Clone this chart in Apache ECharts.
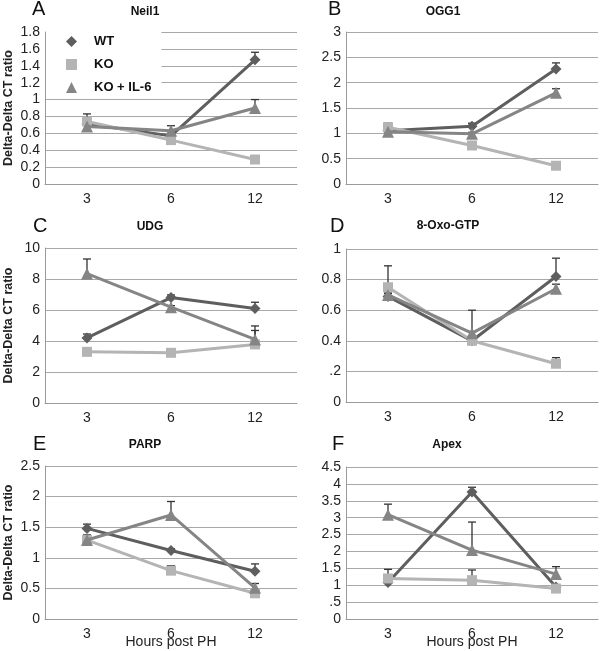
<!DOCTYPE html>
<html><head><meta charset="utf-8">
<script src="https://cdn.jsdelivr.net/npm/echarts@6/dist/echarts.min.js"></script>
<style>html,body{margin:0;padding:0;background:#fff}#c{width:600px;height:651px}</style>
</head><body><div id="c"></div>
<script>
const categories = ['3', '6', '12'];
const seriesNames = ['WT', 'KO', 'KO + IL-6'];

const neil1WT = [0.71, 0.57, 1.47];
const neil1KO = [0.74, 0.52, 0.29];
const neil1IL6 = [0.68, 0.63, 0.90];
const neil1WTErr = [0.03, 0.03, 0.09];
const neil1KOErr = [0.09, 0.03, 0.04];
const neil1IL6Err = [0.03, 0.06, 0.10];

const ogg1WT = [1.05, 1.14, 2.27];
const ogg1KO = [1.12, 0.76, 0.36];
const ogg1IL6 = [1.03, 0.99, 1.80];
const ogg1WTErr = [0.03, 0.06, 0.12];
const ogg1KOErr = [0.08, 0.03, 0.03];
const ogg1IL6Err = [0.03, 0.03, 0.08];

const udgWT = [4.2, 6.8, 6.1];
const udgKO = [3.3, 3.24, 3.78];
const udgIL6 = [8.34, 6.18, 4.1];
const udgWTErr = [0.25, 0.17, 0.4];
const udgKOErr = [0.1, 0.1, 0.9];
const udgIL6Err = [0.95, 0.1, 0.87];

const oxoWT = [0.69, 0.40, 0.82];
const oxoKO = [0.75, 0.40, 0.25];
const oxoIL6 = [0.70, 0.45, 0.74];
const oxoWTErr = [0.02, 0.02, 0.12];
const oxoKOErr = [0.14, 0.02, 0.04];
const oxoIL6Err = [0.02, 0.15, 0.03];

const parpWT = [1.48, 1.12, 0.78];
const parpKO = [1.29, 0.79, 0.42];
const parpIL6 = [1.29, 1.70, 0.51];
const parpWTErr = [0.07, 0.03, 0.12];
const parpKOErr = [0.08, 0.08, 0.03];
const parpIL6Err = [0.08, 0.22, 0.07];

const apexWT = [1.08, 3.76, 0.95];
const apexKO = [1.2, 1.15, 0.9];
const apexIL6 = [3.09, 2.04, 1.33];
const apexWTErr = [0.05, 0.14, 0.03];
const apexKOErr = [0.27, 0.3, 0.03];
const apexIL6Err = [0.31, 0.83, 0.22];

const yTicksA = ['0', '0.2', '0.4', '0.6', '0.8', '1', '1.2', '1.4', '1.6', '1.8'];
const yTicksB = ['0', '0.5', '1', '1.5', '2', '2.5', '3'];
const yTicksC = ['0', '2', '4', '6', '8', '10'];
const yTicksD = ['0', '.2', '0.4', '0.6', '0.8', '1'];
const yTicksE = ['0', '0.5', '1', '1.5', '2', '2.5'];
const yTicksF = ['0', '.5', '1', '1.5', '2', '2.5', '3', '3.5', '4', '4.5'];

const panels = [
  {letter: 'A', title: 'Neil1', vals: [neil1WT, neil1KO, neil1IL6], errs: [neil1WTErr, neil1KOErr, neil1IL6Err], ticks: yTicksA, interval: 0.2, max: 1.8,
   grid: {left: 45, top: 32, width: 252, height: 152}, yName: true, xName: false},
  {letter: 'B', title: 'OGG1', vals: [ogg1WT, ogg1KO, ogg1IL6], errs: [ogg1WTErr, ogg1KOErr, ogg1IL6Err], ticks: yTicksB, interval: 0.5, max: 3,
   grid: {left: 346, top: 32, width: 252, height: 152}, yName: false, xName: false},
  {letter: 'C', title: 'UDG', vals: [udgWT, udgKO, udgIL6], errs: [udgWTErr, udgKOErr, udgIL6Err], ticks: yTicksC, interval: 2, max: 10,
   grid: {left: 45, top: 248, width: 252, height: 155}, yName: true, xName: false},
  {letter: 'D', title: '8-Oxo-GTP', vals: [oxoWT, oxoKO, oxoIL6], errs: [oxoWTErr, oxoKOErr, oxoIL6Err], ticks: yTicksD, interval: 0.2, max: 1,
   grid: {left: 346, top: 249, width: 252, height: 153}, yName: false, xName: false},
  {letter: 'E', title: 'PARP', vals: [parpWT, parpKO, parpIL6], errs: [parpWTErr, parpKOErr, parpIL6Err], ticks: yTicksE, interval: 0.5, max: 2.5,
   grid: {left: 45, top: 466, width: 252, height: 153}, yName: true, xName: true},
  {letter: 'F', title: 'Apex', vals: [apexWT, apexKO, apexIL6], errs: [apexWTErr, apexKOErr, apexIL6Err], ticks: yTicksF, interval: 0.5, max: 4.5,
   grid: {left: 346, top: 467, width: 252, height: 152}, yName: false, xName: true}
];

const colors = ['#5e5e5e', '#b4b4b4', '#858585'];
const symbols = ['diamond', 'rect', 'triangle'];
const symbolSizes = [11, 10, 12];
const FONT = 'Liberation Sans, Arial, sans-serif';

const grids = [], xAxes = [], yAxes = [], series = [], graphics = [];

panels.forEach((p, i) => {
  grids.push(Object.assign({outerBoundsMode: 'none', containLabel: false}, p.grid));
  xAxes.push({
    type: 'category', gridIndex: i, data: categories, boundaryGap: true,
    axisLine: {lineStyle: {color: '#9a9a9a', width: 1}},
    axisTick: {show: false},
    axisLabel: {color: '#222', fontSize: 14, fontFamily: FONT, margin: 8},
    name: p.xName ? 'Hours post PH' : '', nameLocation: 'middle', nameGap: 16, nameMoveOverlap: false,
    nameTextStyle: {color: '#222', fontSize: 14, fontFamily: FONT}
  });
  const ticks = p.ticks, iv = p.interval;
  yAxes.push({
    type: 'value', gridIndex: i, min: 0, max: p.max, interval: iv,
    axisLine: {show: true, lineStyle: {color: '#9a9a9a', width: 1}},
    axisTick: {show: false},
    splitLine: {lineStyle: {color: '#a8a8a8', width: 1}},
    axisLabel: {color: '#222', fontSize: 14, fontFamily: FONT, margin: 5,
      formatter: v => ticks[Math.round(v / iv)]},
    name: p.yName ? 'Delta-Delta CT ratio' : '', nameLocation: 'middle', nameGap: 30, nameRotate: 90,
    nameTextStyle: {color: '#222', fontSize: 12.5, fontWeight: 'bold', fontFamily: FONT}
  });
  for (let s = 0; s < 3; s++) {
    const errData = categories.map((c, k) => [k, p.vals[s][k], p.errs[s][k]]);
    series.push({
      type: 'custom', xAxisIndex: i, yAxisIndex: i, z: 3 + s,
      data: errData, silent: true,
      renderItem: (params, api) => {
        const x = api.value(0), y = api.value(1), e = api.value(2);
        const p0 = api.coord([x, y]);
        const p1 = api.coord([x, y + e]);
        const st = {stroke: '#333', lineWidth: 1.3};
        return {type: 'group', children: [
          {type: 'line', shape: {x1: p0[0], y1: p0[1], x2: p1[0], y2: p1[1]}, style: st},
          {type: 'line', shape: {x1: p1[0] - 4, y1: p1[1], x2: p1[0] + 4, y2: p1[1]}, style: st}
        ]};
      }
    });
    series.push({
      type: 'line', name: seriesNames[s], xAxisIndex: i, yAxisIndex: i, z: 4 + s,
      data: p.vals[s], symbol: symbols[s], symbolSize: symbolSizes[s], showSymbol: true,
      lineStyle: {color: colors[s], width: 3},
      itemStyle: {color: colors[s]},
      animation: false
    });
  }
});

const titlePos = [
  {lx: 32, ly: 9, tx: 145, ty: 12},
  {lx: 328, ly: 9, tx: 443, ty: 12},
  {lx: 33, ly: 226, tx: 150, ty: 227},
  {lx: 330, ly: 226, tx: 448, ty: 226},
  {lx: 33, ly: 444, tx: 145, ty: 445},
  {lx: 332, ly: 444, tx: 447, ty: 445}
];
panels.forEach((p, i) => {
  const t = titlePos[i];
  graphics.push({type: 'text', left: t.lx, top: t.ly - 10, style: {text: p.letter, font: '20px ' + FONT, fill: '#111'}});
  graphics.push({type: 'text', x: t.tx, y: t.ty, style: {text: p.title, font: 'bold 12px ' + FONT, fill: '#111', textAlign: 'center', textVerticalAlign: 'middle'}});
});

const chart = echarts.init(document.getElementById('c'), null, {renderer: 'canvas'});
chart.setOption({
  animation: false,
  backgroundColor: '#fff',
  grid: grids, xAxis: xAxes, yAxis: yAxes, series: series, graphic: graphics,
  legend: {
    show: true, orient: 'vertical', left: 46, top: 31,
    backgroundColor: '#fff', padding: [4, 10, 4, 20],
    itemWidth: 11, itemHeight: 11, itemGap: 10,
    textStyle: {color: '#111', fontSize: 13, fontWeight: 'bold', fontFamily: FONT, padding: [0, 0, 0, 12]},
    data: seriesNames.map((n, s) => ({name: n, icon: symbols[s], itemStyle: {color: colors[s]}}))
  }
});
</script></body></html>
